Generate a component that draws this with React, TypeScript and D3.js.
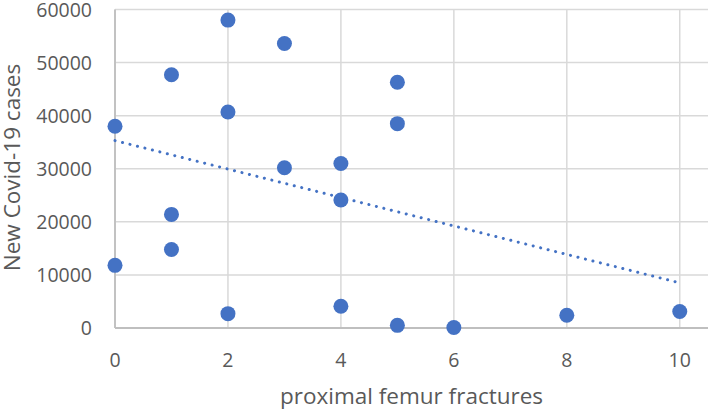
import React from "react";
import * as d3 from "d3";

// proximal femur fractures (x) vs new Covid-19 cases (y)
const fractures = [0, 0, 1, 1, 1, 2, 2, 2, 3, 3, 4, 4, 4, 5, 5, 5, 6, 8, 10];
const newCases = [
  38000, 11800, 47700, 21400, 14800, 58000, 40700, 2700, 53600, 30200, 31000,
  24100, 4100, 46300, 38500, 500, 100, 2400, 3100,
];

// linear trendline as drawn (start and end)
const trendX = [0, 10];
const trendY = [35300, 8500];

const xTicks = [0, 2, 4, 6, 8, 10];
const yTicks = [0, 10000, 20000, 30000, 40000, 50000, 60000];

const xTitle = "proximal femur fractures";
const yTitle = "New Covid-19 cases";

const width = 712;
const height = 410;
const margin = { top: 9.5, right: 4, bottom: 82, left: 115 };
const font = "'Open Sans', 'Noto Sans', sans-serif";
const textColor = "#595959";
const blue = "#4472C4";

export default function App() {
  const innerW = width - margin.left - margin.right;
  const innerH = height - margin.top - margin.bottom;

  const x = d3.scaleLinear().domain([0, 10.5]).range([0, innerW]);
  const y = d3.scaleLinear().domain([0, 60000]).range([innerH, 0]);

  const trend = d3
    .line<number>()
    .x((d) => x(d))
    .y((_, i) => y(trendY[i]));

  return (
    <svg
      width={width}
      height={height}
      style={{ position: "absolute", left: 0, top: 0, background: "#fff" }}
      fontFamily={font}
    >
      <g transform={`translate(${margin.left},${margin.top})`}>
        {/* grid */}
        {yTicks.map((t) => (
          <line
            key={"gy" + t}
            x1={0}
            x2={innerW}
            y1={y(t)}
            y2={y(t)}
            stroke="#d9d9d9"
            strokeWidth={1.5}
          />
        ))}
        {xTicks.map((t) => (
          <line
            key={"gx" + t}
            x1={x(t)}
            x2={x(t)}
            y1={0}
            y2={innerH}
            stroke="#d9d9d9"
            strokeWidth={1.5}
          />
        ))}
        {/* axis lines */}
        <line x1={0} x2={innerW} y1={innerH} y2={innerH} stroke="#bfbfbf" strokeWidth={1.8} />
        <line x1={0} x2={0} y1={0} y2={innerH} stroke="#bfbfbf" strokeWidth={1.8} />

        {/* tick labels */}
        {yTicks.map((t) => (
          <text
            key={"ty" + t}
            x={-23}
            y={y(t) + 7}
            textAnchor="end"
            fontSize={19.5}
            fill={textColor}
          >
            {t}
          </text>
        ))}
        {xTicks.map((t) => (
          <text
            key={"tx" + t}
            x={x(t)}
            y={innerH + 38.5}
            textAnchor="middle"
            fontSize={19.5}
            fill={textColor}
          >
            {t}
          </text>
        ))}

        {/* trendline */}
        <path
          d={trend(trendX) ?? ""}
          fill="none"
          stroke={blue}
          strokeWidth={3}
          strokeLinecap="round"
          strokeDasharray="0.1 7.6"
        />

        {/* points */}
        {fractures.map((f, i) => (
          <circle key={i} cx={x(f)} cy={y(newCases[i])} r={7.5} fill={blue} />
        ))}
      </g>

      {/* axis titles */}
      <text
        x={margin.left + innerW / 2}
        y={404}
        textAnchor="middle"
        fontSize={22.5}
        fill={textColor}
      >
        {xTitle}
      </text>
      <text
        transform={`translate(20,167.5) rotate(-90)`}
        textAnchor="middle"
        fontSize={22.5}
        fill={textColor}
      >
        {yTitle}
      </text>
    </svg>
  );
}
